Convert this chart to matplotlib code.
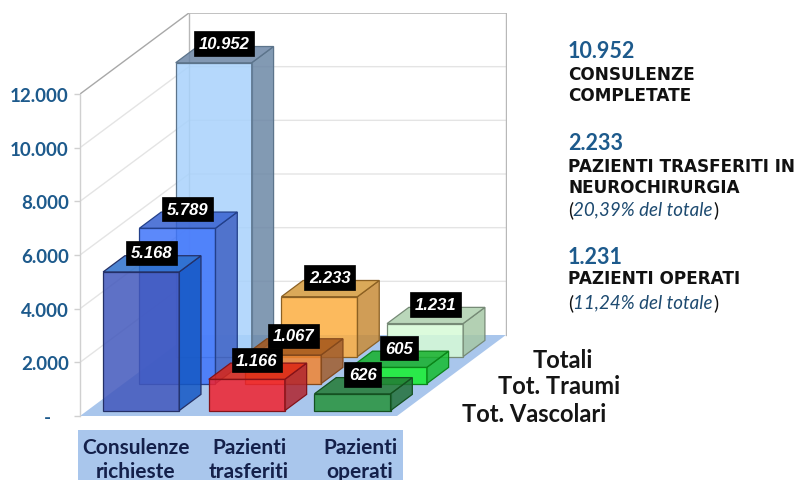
import matplotlib
matplotlib.use("Agg")
import matplotlib.pyplot as plt
from matplotlib.patches import Polygon, Rectangle
from matplotlib.colors import to_rgb

W, H = 802, 481

categories = ["Consulenze\nrichieste", "Pazienti\ntrasferiti", "Pazienti\noperati"]
category_x = [0.53, 1.6, 2.65]
series_names = ["Tot. Vascolari", "Tot. Traumi", "Totali"]  # front to back

vascolari = [5168, 1166, 626]
traumi = [5789, 1067, 605]
totali = [10952, 2233, 1231]
series_values = [vascolari, traumi, totali]

ytick_vals = [0, 2000, 4000, 6000, 8000, 10000, 12000]
ytick_labels = ["-    ", "2.000", "4.000", "6.000", "8.000", "10.000", "12.000"]

# (front, side, top) per row and column
bar_colors = [
    [("#4258bc", "#1558c4", "#2c70cc"), ("#f0222e", "#b0242e", "#dc2414"), ("#25933a", "#22703a", "#227a34")],
    [("#3f74fa", "#3f62c4", "#3660d0"), ("#f08432", "#a05c2c", "#a4561a"), ("#14f02e", "#14bc30", "#14b02a")],
    [("#a8d2fc", "#6c88a6", "#6c86a6"), ("#fcae40", "#c88c38", "#d49a3c"), ("#d6fbd6", "#a6c8a6", "#aed0ae")],
]

side_notes = [
    (52, "10.952", 75, ["CONSULENZE", "COMPLETATE"], None, None),
    (144, "2.233", 167, ["PAZIENTI TRASFERITI IN", "NEUROCHIRURGIA"], 210, "20,39% del totale"),
    (258, "1.231", 279, ["PAZIENTI OPERATI"], 303, "11,24% del totale"),
]

# scales: the axes box runs from the wall top down to the front of the floor
PX_PER_CAT = 105.67
PX_PER_VAL = 322 / 12000
ROW_DX = 36.3 / PX_PER_CAT
ROW_DY = 27 / PX_PER_VAL
N_ROWS = 3
N_COLS = 3
BAR_W = 0.72
BAR_X = 0.15
BAR_D0 = 0.2
BAR_D1 = 0.8

BLUE = "#1d5a8c"
NAVY = "#14204a"
FLOOR = "#a9c6ec"


def proj(cat, val, depth):
    return (cat + depth * ROW_DX, val + depth * ROW_DY)


def darker(col, k=0.55):
    return tuple(c * k for c in to_rgb(col))


def fx(px):
    return px / W


def fy(py):
    return 1 - py / H


fig = plt.figure(figsize=(W / 100, H / 100), dpi=100)
ax = fig.add_axes([fx(80), fy(417), 427 / W, 403 / H])
ax.set_xlim(0, 427 / PX_PER_CAT)
ax.set_ylim(0, 403 / PX_PER_VAL)
ax.patch.set_alpha(0)

for s in ["top", "right", "bottom"]:
    ax.spines[s].set_visible(False)
ax.spines["left"].set_bounds(0, 12000)
ax.spines["left"].set_color("#d0d0d0")
ax.spines["left"].set_linewidth(1)
ax.set_xticks([])
ax.set_yticks(ytick_vals, ytick_labels, fontfamily="Lato", fontweight="bold", fontsize=13.5, color=BLUE)
ax.tick_params(axis="y", length=4, width=1, color="#d0d0d0", pad=4)

# floor
floor = [proj(0, 0, 0), proj(N_COLS, 0, 0), proj(N_COLS, 0, N_ROWS), proj(0, 0, N_ROWS)]
ax.add_patch(Polygon(floor, closed=True, fc=FLOOR, ec="none", zorder=1))

# walls
for v in ytick_vals:
    col = "#a8a8a8" if v == 12000 else "#e4e4e4"
    p0 = proj(0, v, 0)
    p1 = proj(0, v, N_ROWS)
    p2 = proj(N_COLS, v, N_ROWS)
    if v > 0:
        ax.plot([p0[0], p1[0], p2[0]], [p0[1], p1[1], p2[1]], color=col, lw=1, zorder=2)
for c in [0, N_COLS]:
    p0 = proj(c, 0, N_ROWS)
    p1 = proj(c, 12000, N_ROWS)
    ax.plot([p0[0], p1[0]], [p0[1], p1[1]], color="#b8b8b8", lw=1, zorder=2)

# bars, back row first
z = 3
for r in range(N_ROWS - 1, -1, -1):
    for c in range(N_COLS):
        v = series_values[r][c]
        front, side, top = bar_colors[r][c]
        x0 = c + BAR_X
        x1 = x0 + BAR_W
        faces = [
            ([proj(x0, 0, BAR_D0 + r), proj(x1, 0, BAR_D0 + r), proj(x1, v, BAR_D0 + r), proj(x0, v, BAR_D0 + r)], front),
            ([proj(x1, 0, BAR_D0 + r), proj(x1, 0, BAR_D1 + r), proj(x1, v, BAR_D1 + r), proj(x1, v, BAR_D0 + r)], side),
            ([proj(x0, v, BAR_D0 + r), proj(x1, v, BAR_D0 + r), proj(x1, v, BAR_D1 + r), proj(x0, v, BAR_D1 + r)], top),
        ]
        for pts, col in faces:
            ax.add_patch(Polygon(pts, closed=True, fc=col + "d9", ec=darker(front), lw=0.9, zorder=z))
        z += 1

# value labels on top of everything
for r in range(N_ROWS):
    for c in range(N_COLS):
        v = series_values[r][c]
        mid = proj(c + BAR_X + BAR_W / 2, v, r + 0.5)
        txt = f"{v:,}".replace(",", ".")
        ax.annotate(txt, mid, xytext=(-0.5, 8), textcoords="offset points", ha="center", va="center",
                    fontfamily="Liberation Sans", fontweight="bold", fontstyle="italic", fontsize=12,
                    color="white", zorder=50,
                    bbox=dict(boxstyle="square,pad=0.28", fc="black", ec="black", lw=0.5))

# category strip
fig.add_artist(Rectangle((fx(78), fy(481)), 325 / W, 50 / H, transform=fig.transFigure, fc=FLOOR, ec="none", zorder=-1))
for xc, name in zip(category_x, categories):
    ax.annotate(name, (xc, 0), xytext=(0, -43), textcoords="offset pixels", ha="center", va="center",
                annotation_clip=False, fontfamily="Lato", fontweight="bold", fontsize=15, color=NAVY,
                linespacing=1.2)

# series names
name_pos = {"Totali": (533, 361), "Tot. Traumi": (498, 387), "Tot. Vascolari": (462, 415)}
for name in series_names:
    px, py = name_pos[name]
    fig.text(fx(px), fy(py), name, ha="left", va="center", fontfamily="Lato", fontweight="bold",
             fontsize=17, color="#151515")

# right column notes
for y_num, num, y_cap, caps, y_note, note in side_notes:
    fig.text(fx(568), fy(y_num), num, ha="left", va="center", fontfamily="Lato", fontweight="bold",
             fontsize=15.5, color=BLUE)
    for i, cap in enumerate(caps):
        fig.text(fx(568), fy(y_cap + i * 21), cap, ha="left", va="center", fontfamily="DejaVu Sans", fontweight="bold",
                 fontsize=12.2, color="#111111")
    if note:
        t = fig.text(fx(568), fy(y_note), "(", ha="left", va="center", fontfamily="Lato", fontsize=13.5, color="#111111")
        t2 = fig.text(fx(573), fy(y_note), note, ha="left", va="center", fontfamily="Lato", fontstyle="italic",
                      fontsize=13.5, color="#1d4a70")
        box = t2.get_window_extent(fig.canvas.get_renderer())
        fig.text(box.x1 / W + 0.001, fy(y_note), ")", ha="left", va="center", fontfamily="Lato", fontsize=13.5, color="#111111")

fig.savefig("out.png", dpi=100)
